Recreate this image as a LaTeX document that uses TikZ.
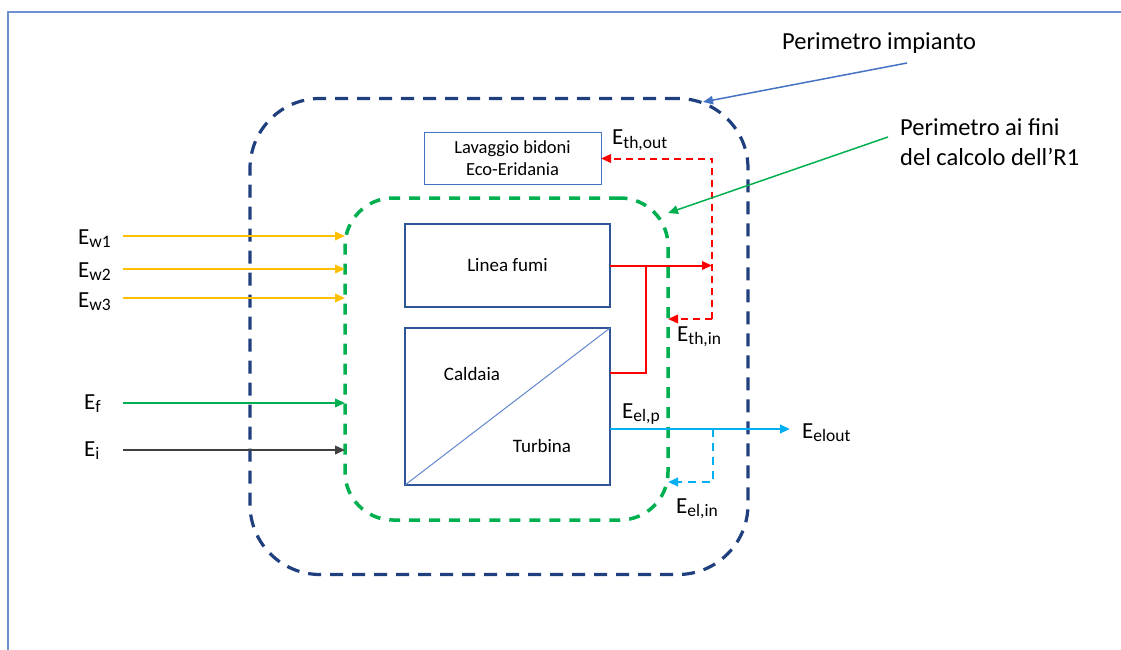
\documentclass[tikz,border=0pt]{standalone}
\usepackage{fontspec}
\setmainfont{Carlito}
\usetikzlibrary{arrows.meta}
\definecolor{perblue}{HTML}{203F7F}
\definecolor{pergreen}{HTML}{00B050}
\definecolor{boxblue}{HTML}{2F5597}
\definecolor{lightblue}{HTML}{4472C4}
\definecolor{framecol}{HTML}{6F8FD0}
\definecolor{elcyan}{HTML}{00B0F0}
\definecolor{worange}{HTML}{FFC000}
\definecolor{igray}{HTML}{404040}
\definecolor{thred}{HTML}{FF0000}
\newcommand{\En}[1]{E\raisebox{-0.3ex}{\fontsize{17.5}{17.5}\selectfont #1}}
\begin{document}
\begin{tikzpicture}[x=1pt,y=-1pt,
  tip/.style={-{Triangle[length=10pt,width=8.5pt]}},
  outerper/.style={draw=perblue,line width=3.2pt,dash pattern=on 13pt off 9pt,rounded corners=70pt,inner sep=0pt,outer sep=0pt},
  greenper/.style={draw=pergreen,line width=3.5pt,dash pattern=on 11pt off 9pt,rounded corners=48pt,inner sep=0pt,outer sep=0pt},
  mainbox/.style={draw=boxblue,line width=2pt,inner sep=0pt,outer sep=0pt,font=\fontsize{19}{21}\selectfont},
  lavbox/.style={draw=lightblue,line width=1pt,inner sep=0pt,outer sep=0pt,align=center,font=\fontsize{18.5}{22}\selectfont},
  elab/.style={font=\fontsize{23}{25}\selectfont,inner sep=0pt,anchor=base west},
  intext/.style={font=\fontsize{19}{21}\selectfont,inner sep=0pt},
  calltext/.style={font=\fontsize{24.5}{30}\selectfont,inner sep=0pt,align=left},
  redsolid/.style={draw=thred,line width=2pt},
  reddash/.style={draw=thred,line width=2pt,dash pattern=on 7pt off 5pt},
  cyansolid/.style={draw=elcyan,line width=2.5pt},
  cyandash/.style={draw=elcyan,line width=2.5pt,dash pattern=on 8pt off 6pt},
  inarrow/.style={line width=2pt,tip}]
\useasboundingbox (0,0) rectangle (1121,650);
% frame
\coordinate (ftl) at (8,12);
\coordinate (ftr) at (1121,12);
\coordinate (fbl) at (8,650);
\draw[framecol,line width=1.5pt] (fbl) -- (ftl) -- (ftr);
% perimeters
\node[outerper,minimum width=498pt,minimum height=476pt] (outer) at (499,336.5) {};
\node[greenper,minimum width=323pt,minimum height=322pt] (green) at (506.5,359) {};
% boxes
\node[lavbox,minimum width=177pt,minimum height=51pt] (lav) at (512.5,158.5) {Lavaggio bidoni\\Eco-Eridania};
\node[mainbox,minimum width=205pt,minimum height=83pt] (fumi) at (507.5,265.5) {Linea fumi};
\node[mainbox,minimum width=205pt,minimum height=157pt] (cald) at (507.5,406.5) {};
\draw[lightblue!85,line width=1pt] (cald.south west) -- (cald.north east);
\node[intext] (caldt) at (472,374) {Caldaia};
\node[intext] (turbt) at (542,446) {Turbina};
% thermal
\coordinate (thtop) at (712,158.5);
\coordinate (thbot) at (712,319);
\coordinate (br) at (646,265.5);
\coordinate (calout) at (610,373);
\draw[redsolid,tip] (fumi.east) -- (fumi.east -| thtop);
\draw[redsolid] (calout) -| (br);
\draw[reddash,tip] (thbot) -- (thtop) -- (lav.east);
\draw[reddash,tip] (thbot) -- (thbot -| green.east);
\node[elab] (ethout) at (612,145) {\En{th,out}};
\node[elab] (ethin) at (677,341) {\En{th,in}};
% electric
\coordinate (elout) at (790,429);
\coordinate (eld) at (713,429);
\coordinate (eldb) at (713,482);
\draw[cyansolid,tip] (cald.east |- elout) -- (elout);
\draw[cyandash,tip] (eld) -- (eldb) -- (eldb -| green.east);
\node[elab] (elp) at (622,418) {\En{el,p}};
\node[elab] (eloutl) at (802,438) {\En{elout}};
\node[elab] (elin) at (676,513) {\En{el,in}};
% inputs
\node[elab] (ew1) at (78,244) {\En{w1}};
\node[elab] (ew2) at (78,277) {\En{w2}};
\node[elab] (ew3) at (78,307) {\En{w3}};
\node[elab] (ef) at (84,409) {\En{f}};
\node[elab] (ei) at (84,456) {\En{i}};
\coordinate (s1) at (123,236);
\coordinate (s2) at (123,269);
\coordinate (s3) at (123,298);
\coordinate (s4) at (123,403);
\coordinate (s5) at (123,450);
\draw[inarrow,worange] (s1) -- (s1 -| green.west);
\draw[inarrow,worange] (s2) -- (s2 -| green.west);
\draw[inarrow,worange] (s3) -- (s3 -| green.west);
\draw[inarrow,pergreen] (s4) -- (s4 -| green.west);
\draw[inarrow,igray] (s5) -- (s5 -| green.west);
% callouts
\node[calltext,anchor=west] (pimp) at (782,43) {Perimetro impianto};
\node[calltext,anchor=west] (pr1) at (900,142) {Perimetro ai fini\\del calcolo dell’R1};
\coordinate (c1) at (907,63);
\coordinate (c1e) at (703,102);
\coordinate (c2) at (888,137);
\coordinate (c2e) at (668,213);
\draw[lightblue,line width=1.5pt,tip] (c1) -- (c1e);
\draw[pergreen,line width=1.5pt,tip] (c2) -- (c2e);
\end{tikzpicture}
\end{document}
